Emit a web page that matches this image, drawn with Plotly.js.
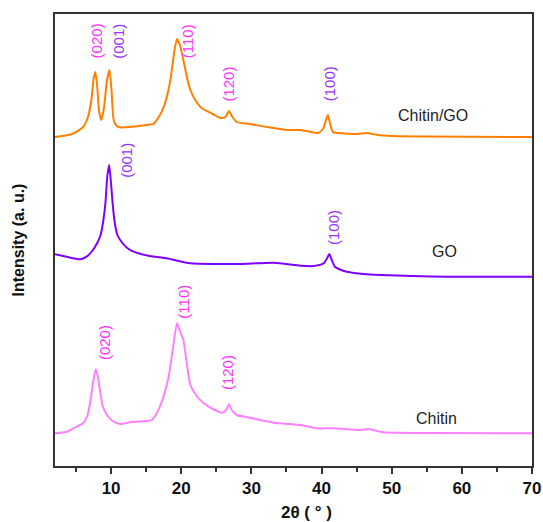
<!DOCTYPE html>
<html><head><meta charset="utf-8">
<script src="https://cdn.plot.ly/plotly-3.0.1.min.js"></script>
<style>html,body{margin:0;padding:0;background:#fff}#chart{width:543px;height:522px}</style>
</head><body><div id="chart"></div>
<script>
// Chitin/GO (stacked top)
const cgX = [2.0,3.5,4.6,6.0,6.7,7.2,7.5,7.75,8.0,8.3,8.6,9.0,9.4,9.76,10.05,10.4,11.0,12.7,15.0,16.0,16.8,17.6,18.4,19.0,19.4,19.8,20.3,20.8,21.3,22.0,22.9,24.5,25.6,26.3,26.8,27.2,27.9,29.8,32.2,35.1,37.0,38.5,39.5,40.2,40.6,40.9,41.2,41.6,42.5,45.1,46.5,48.0,50,55,70];
const cgY = [0,1.5,3.5,10,20,38,58,65,52,25,17,30,56,67,48,16,10,10,12,13,20,32,55,85,98,92,77,60,47,37,29,23,19,20,26,21,15,13,10,7,7,5,4,8,16,22,14,5,4,3,4,2,1,0.5,0];
// GO (stacked middle)
const goX = [2.0,3.5,5.6,6.5,7.3,8.0,8.5,8.9,9.2,9.45,9.72,9.95,10.2,10.5,10.9,11.5,12.3,13.2,15.5,17.9,21.3,25,28.4,33.2,37.0,38.9,40.3,40.8,41.1,41.4,41.9,42.8,43.6,46,48.4,53,57.9,70];
const goY = [22.7,20.5,17.7,20.3,26,33.7,42,57,75,100,112,97,75,55,42,35,29,25.3,21,18.7,13.7,13,13,14.3,11.3,11,13.7,19,23,18,10.3,7,5.3,3,2,1,0.3,0.3];
// Chitin (stacked bottom)
const chX = [2.0,3.7,4.6,6.0,6.6,7.0,7.4,7.8,8.1,8.4,8.8,9.4,10.2,11.3,12.7,15.0,15.8,16.5,17.4,18.2,18.8,19.4,19.8,20.3,20.8,21.3,22.2,23.2,24.5,25.8,26.4,26.8,27.2,27.9,29.8,33.2,37.0,39.3,41.7,45.5,46.7,48.8,55,70];
const chY = [0.7,2.3,5.7,10.7,18,30.7,50,64.7,58,44,28,19,13,10,11.7,13,14,20.7,36,57.3,85,110.7,103,94,70,49,38,30.7,25,21.3,24,29.7,24,19,16.3,11.3,9,5.7,5.7,4,5,1.7,1,0.7];
const offsets = {chitinGO: 329, GO: 189, chitin: 32};
const seriesNames = ['Chitin/GO','GO','Chitin'];
const xTicks = [10,20,30,40,50,60,70];

function shift(arr, off){ return arr.map(v => v + off); }
const LS = {shape:'spline', smoothing:0.6, width:2};
const traces = [
  {x: cgX, y: shift(cgY, offsets.chitinGO), name: seriesNames[0], mode:'lines', line:Object.assign({color:'#ff8000'}, LS)},
  {x: goX, y: shift(goY, offsets.GO), name: seriesNames[1], mode:'lines', line:Object.assign({color:'#8000ff'}, LS)},
  {x: chX, y: shift(chY, offsets.chitin), name: seriesNames[2], mode:'lines', line:Object.assign({color:'#ff80ff'}, LS)}
];

const MAG = '#ff33ff', PUR = '#9933ff';
const FF = 'Liberation Sans, Arial, sans-serif';
function peak(text, x, y, color){
  return {text, x, y, xref:'x', yref:'y', showarrow:false, textangle:-90,
    font:{family:FF, size:15, color}};
}
function label(text, x, y){
  return {text, x, y, xref:'x', yref:'y', showarrow:false,
    font:{family:FF, size:16, color:'#222'}};
}
const annotations = [
  peak('(020)', 7.9, 425, MAG), peak('(001)', 10.95, 425, PUR), peak('(110)', 20.85, 425, MAG),
  peak('(120)', 26.6, 382, MAG), peak('(100)', 41.1, 382, PUR),
  peak('(001)', 12.1, 306, PUR), peak('(100)', 41.7, 238.5, PUR),
  peak('(020)', 9.0, 123, MAG), peak('(110)', 20.2, 164, MAG), peak('(120)', 26.6, 93.5, MAG),
  label(seriesNames[0], 55.9, 351), label(seriesNames[1], 57.5, 214.5), label(seriesNames[2], 56.4, 48),
  {text:'<b>2θ ( ° )</b>', x:0.528, y:-46/452, xref:'paper', yref:'paper', xanchor:'center', yanchor:'middle',
   showarrow:false, font:{family:FF, size:17, color:'#111'}}
];

const layout = {
  width:543, height:522,
  margin:{l:55, r:11, t:14, b:56},
  paper_bgcolor:'#fff', plot_bgcolor:'#fff',
  showlegend:false,
  xaxis:{range:[2,70], tickmode:'array', tickvals:xTicks, ticktext:xTicks.map(String),
    ticks:'outside', ticklen:6, tickwidth:2, tickcolor:'#333',
    minor:{dtick:5, tick0:0, ticks:'outside', ticklen:4, tickwidth:2, tickcolor:'#333'},
    showline:true, linecolor:'#333', linewidth:2, mirror:true, showgrid:false, zeroline:false,
    tickfont:{family:FF, size:17, color:'#111', weight:'bold'}},
  yaxis:{range:[0,452], showticklabels:false, ticks:'', showline:true, linecolor:'#333', linewidth:2, mirror:true,
    showgrid:false, zeroline:false,
    title:{text:'<b>Intensity (a. u.)</b>', font:{family:FF, size:16, color:'#111'}, standoff:24}},
  annotations
};
Plotly.newPlot('chart', traces, layout, {displayModeBar:false, staticPlot:true});
</script></body></html>
